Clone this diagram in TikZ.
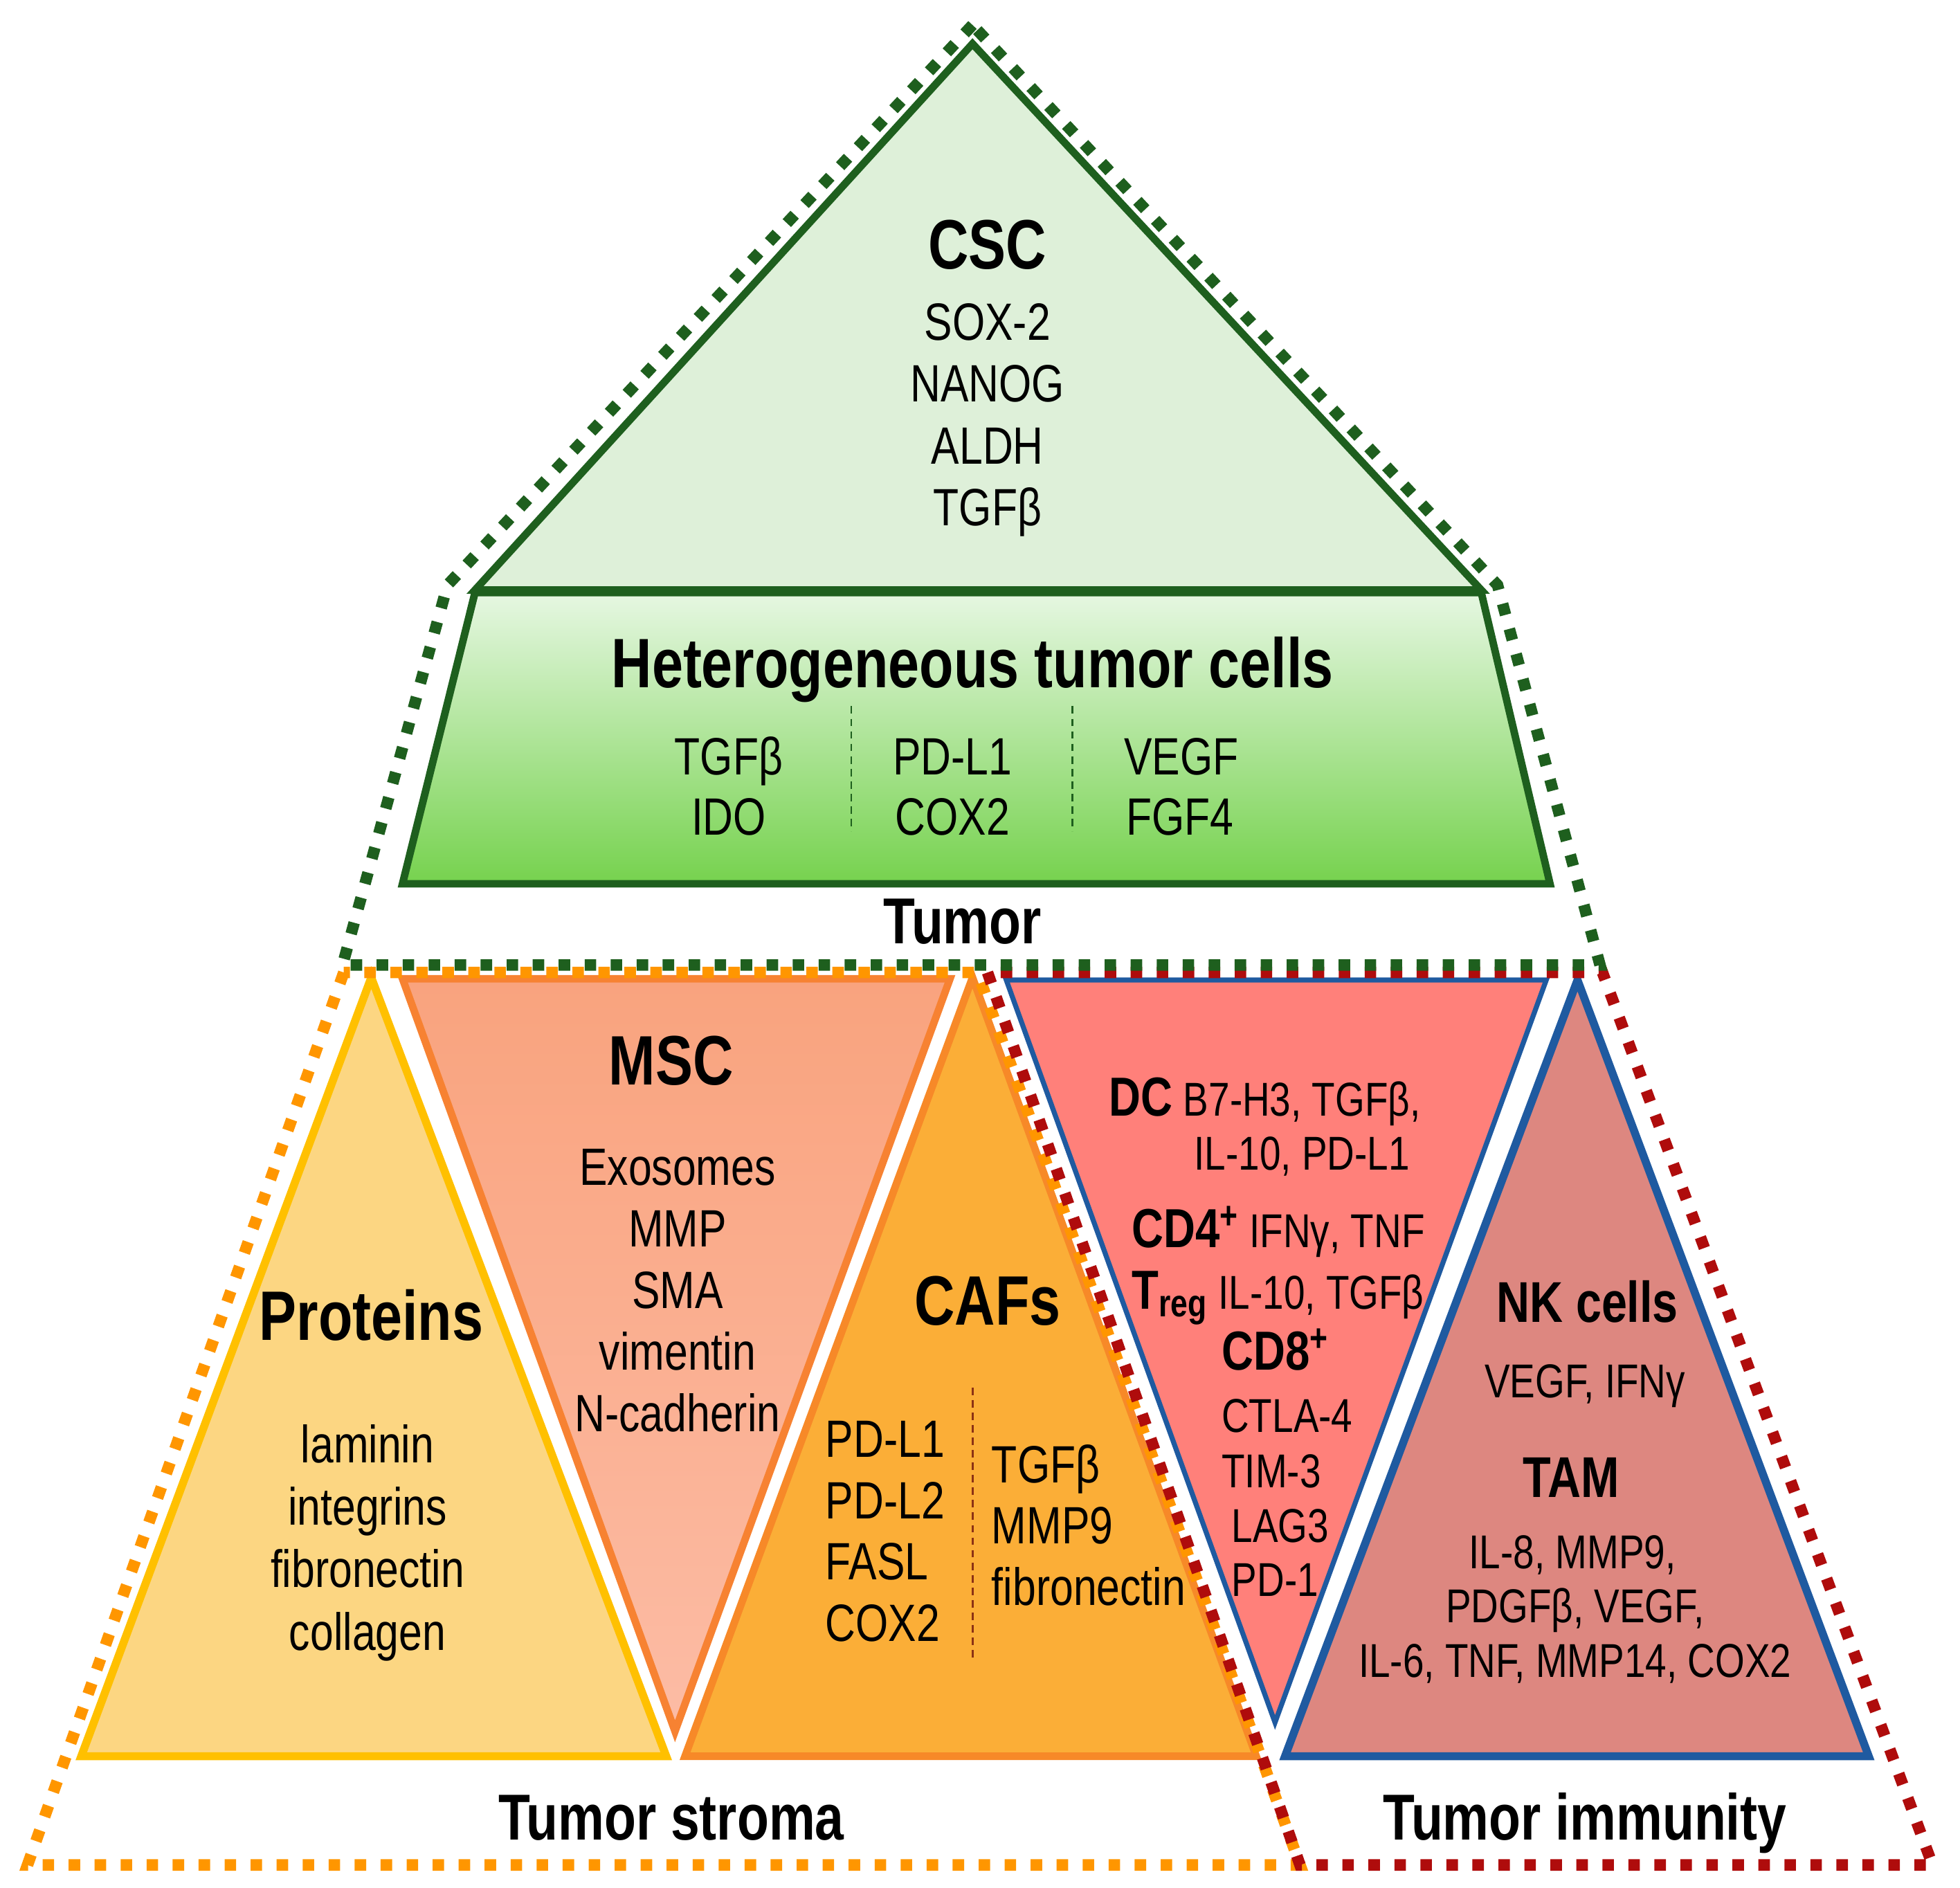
\documentclass[tikz,border=0pt]{standalone}
\usepackage{fontspec}
\setmainfont{Liberation Sans}[FakeStretch=0.8]
\definecolor{tumgreen}{RGB}{30,95,30}
\definecolor{cscfill}{RGB}{222,240,217}
\definecolor{hettop}{RGB}{230,247,226}
\definecolor{hetbot}{RGB}{118,210,78}
\definecolor{protfill}{RGB}{252,214,130}
\definecolor{protline}{RGB}{255,192,0}
\definecolor{mscline}{RGB}{247,130,50}
\definecolor{msctop}{RGB}{249,163,126}
\definecolor{mscbot}{RGB}{252,188,165}
\definecolor{caffill}{RGB}{251,174,55}
\definecolor{cafline}{RGB}{247,137,40}
\definecolor{dcfill}{RGB}{255,128,122}
\definecolor{nkfill}{RGB}{221,135,128}
\definecolor{immblue}{RGB}{31,90,160}
\definecolor{stromaorange}{RGB}{255,150,0}
\definecolor{immred}{RGB}{175,12,12}
\definecolor{sepred}{RGB}{140,50,20}
\tikzset{
  lbl/.style={font=\fontsize{21}{25}\selectfont, anchor=base, inner sep=0pt},
  lblsm/.style={font=\fontsize{19}{22}\selectfont, anchor=base west, inner sep=0pt},
  ttl/.style={font=\bfseries\fontsize{28}{32}\selectfont, anchor=base, inner sep=0pt},
  subttl/.style={font=\bfseries\fontsize{23}{27}\selectfont, anchor=base, inner sep=0pt},
  areattl/.style={font=\bfseries\fontsize{26}{30}\selectfont, anchor=base, inner sep=0pt},
  outline/.style={line width=4.6pt, dash pattern=on 4.6pt off 5.8pt},
  sepline/.style={line width=0.8pt, dash pattern=on 3pt off 2pt},
}
\begin{document}
\begin{tikzpicture}[x=0.5pt,y=-0.5pt]
\useasboundingbox (0,0) rectangle (1568,1510);
% tumor: CSC and heterogeneous cells
\draw[line width=3pt, tumgreen, fill=cscfill] (778,35) -- (380,472) -- (1185,472) -- cycle;
\draw[line width=3pt, tumgreen, top color=hettop, bottom color=hetbot] (380,474) -- (1185,474) -- (1240,707) -- (322,707) -- cycle;
% tumor stroma
\draw[line width=3.2pt, protline, fill=protfill] (297,782) -- (533,1405) -- (65,1405) -- cycle;
\draw[line width=3pt, mscline, top color=msctop, bottom color=mscbot] (322,783) -- (760,783) -- (540,1385) -- cycle;
\draw[line width=3pt, cafline, fill=caffill] (778,782) -- (1005,1405) -- (548,1405) -- cycle;
% tumor immunity
\draw[line width=2pt, immblue, fill=dcfill] (805,784) -- (1237,784) -- (1020,1378) -- cycle;
\draw[line width=3.2pt, immblue, fill=nkfill] (1262,784) -- (1495,1405) -- (1028,1405) -- cycle;
% dashed outlines
\draw[outline, stromaorange] (275,778) -- (22,1492) -- (1040,1492) -- (782,778) -- cycle;
\draw[outline, immred] (790,778) -- (1040,1492) -- (1546,1492) -- (1282,778) -- cycle;
\draw[outline, tumgreen] (778,20) -- (358,468) -- (274,772) -- (1280,772) -- (1198,468) -- cycle;
% separators
\draw[sepline, tumgreen] (681,565) -- (681,665);
\draw[sepline, tumgreen] (858,565) -- (858,665);
\draw[sepline, sepred] (778,1110) -- (778,1328);

% CSC
\node[ttl] (csc) at (790,215) {CSC};
\foreach \txt [count=\i] in {SOX-2,NANOG,ALDH,TGFβ}
  \node[lbl] (csc\i) at (790,{272+49.5*(\i-1)}) {\txt};
% heterogeneous tumor cells
\node[ttl] (htc) at (778,550) {Heterogeneous tumor cells};
\node[lbl] (htc1) at (583,620) {TGFβ};
\node[lbl] (htc2) at (583,668) {IDO};
\node[lbl] (htc3) at (762,620) {PD-L1};
\node[lbl] (htc4) at (762,668) {COX2};
\node[lbl] (htc5) at (945,620) {VEGF};
\node[lbl] (htc6) at (944,668) {FGF4};
\node[areattl] (tumor) at (770,755) {Tumor};

% proteins
\node[ttl] (prot) at (297,1072) {Proteins};
\foreach \txt [count=\i] in {laminin,integrins,fibronectin,collagen}
  \node[lbl] (prot\i) at (294,{1170+50*(\i-1)}) {\txt};
% MSC
\node[ttl] (msc) at (537,868) {MSC};
\foreach \txt [count=\i] in {Exosomes,MMP,SMA,vimentin,N-cadherin}
  \node[lbl] (msc\i) at (542,{948+49.3*(\i-1)}) {\txt};
% CAFs
\node[ttl] (caf) at (790,1060) {CAFs};
\foreach \txt [count=\i] in {PD-L1,PD-L2,FASL,COX2}
  \node[lbl, anchor=base west] (cafl\i) at (660,{1166+49*(\i-1)}) {\txt};
\foreach \txt [count=\i] in {TGFβ,MMP9,fibronectin}
  \node[lbl, anchor=base west] (cafr\i) at (793,{1186+49*(\i-1)}) {\txt};
\node[areattl] (stroma) at (537,1472) {Tumor stroma};

% T cells and DC
\node[lblsm] (dc) at (887,893) {{\bfseries\fontsize{22}{26}\selectfont DC} B7-H3, TGFβ,};
\node[lblsm] (dc2) at (955,936) {IL-10, PD-L1};
\node[lblsm] (cd4) at (905,998) {{\bfseries\fontsize{22}{26}\selectfont CD4\textsuperscript{+}} IFNγ, TNF};
\node[lblsm] (treg) at (905,1047) {{\bfseries\fontsize{22}{26}\selectfont T\textsubscript{reg}} IL-10, TGFβ};
\node[lblsm, font=\bfseries\fontsize{22}{26}\selectfont] (cd8) at (977,1096) {CD8\textsuperscript{+}};
\node[lblsm] (cd81) at (977,1146) {CTLA-4};
\node[lblsm] (cd82) at (977,1190) {TIM-3};
\node[lblsm] (cd83) at (985,1234) {LAG3};
\node[lblsm] (cd84) at (985,1277) {PD-1};
% NK cells and TAM
\node[subttl] (nk) at (1270,1058) {NK cells};
\node[lblsm, anchor=base] (nk1) at (1268,1118) {VEGF, IFNγ};
\node[subttl] (tam) at (1257,1198) {TAM};
\node[lblsm, anchor=base] (tam1) at (1258,1255) {IL-8, MMP9,};
\node[lblsm, anchor=base] (tam2) at (1260,1298) {PDGFβ, VEGF,};
\node[lblsm, anchor=base] (tam3) at (1260,1342) {IL-6, TNF, MMP14, COX2};
\node[areattl] (immunity) at (1268,1472) {Tumor immunity};
\end{tikzpicture}
\end{document}
